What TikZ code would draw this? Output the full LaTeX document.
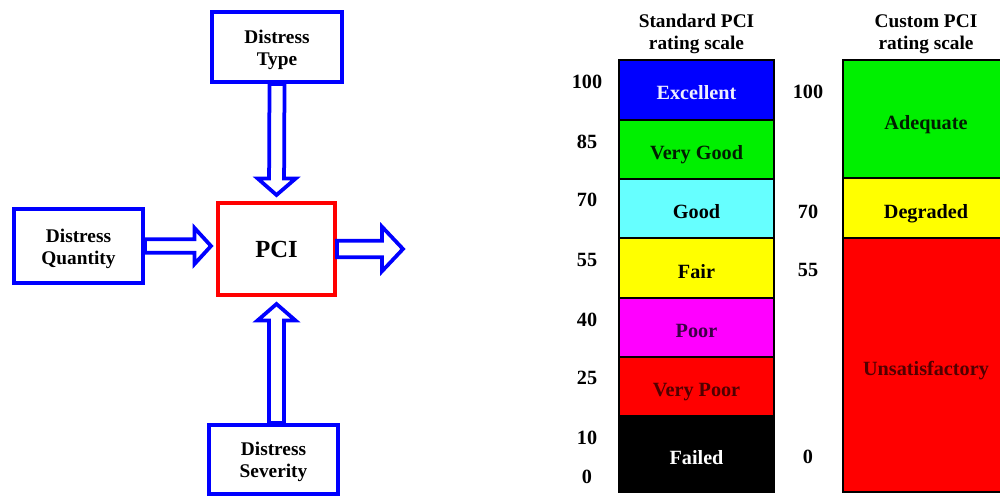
\documentclass[tikz,border=0pt]{standalone}
\usepackage{fontspec}
\setmainfont{Liberation Serif}
\usetikzlibrary{positioning}
\usetikzlibrary{calc}
\usetikzlibrary{math}

\definecolor{pciblue}{RGB}{0,0,255}
\definecolor{pcired}{RGB}{255,0,0}
\definecolor{pcigreen}{RGB}{0,240,0}
\definecolor{pcicyan}{RGB}{102,255,255}
\definecolor{pciyellow}{RGB}{255,255,0}
\definecolor{pcimagenta}{RGB}{255,0,255}
\definecolor{exctext}{RGB}{238,238,255}
\definecolor{goodtext}{RGB}{0,30,0}
\definecolor{poortext}{RGB}{60,0,70}
\definecolor{redtext}{RGB}{80,0,0}

% two line text of an input box, set a little low
\newcommand{\boxtext}[1]{%
  \raisebox{-0.6mm}[\height][\depth]{\begin{tabular}{@{}c@{}}#1\end{tabular}}}

% hollow block arrow: from, to, half shaft, half head, head length
\newcommand{\blockarrow}[5]{%
  \coordinate (ah) at ($(#2)!#5!(#1)$);
  \draw[flowarrow] ($(#1)!#3!90:(#2)$) -- ($(ah)!#3!-90:(#1)$)
    -- ($(ah)!#4!-90:(#1)$) -- (#2) -- ($(ah)!#4!90:(#1)$)
    -- ($(ah)!#3!90:(#1)$) -- ($(#1)!#3!-90:(#2)$) -- cycle;
}

\begin{document}
\begin{tikzpicture}[x=0.2mm,y=-0.2mm,
  inbox/.style={draw=pciblue, line width=0.8mm, fill=white,
    font=\fontsize{11}{12.5}\selectfont\bfseries},
  pcibox/.style={draw=pcired, line width=0.8mm, fill=white,
    minimum width=23.4mm, minimum height=18.4mm,
    font=\fontsize{14}{16}\selectfont\bfseries},
  flowarrow/.style={draw=pciblue, line width=0.75mm, fill=white, line join=miter},
  cell/.style={draw=black, line width=0.3mm},
  celltext/.style={anchor=base, font=\fontsize{11.5}{13}\selectfont\bfseries},
  scalenum/.style={font=\fontsize{11.5}{13}\selectfont\bfseries},
  heading/.style={align=center, font=\fontsize{11}{12.5}\selectfont\bfseries}]

  \useasboundingbox (0,0) rectangle (1000,496);

  % inputs around the PCI box
  \node[pcibox] (pci) at (276.5,249) {PCI};
  \node[inbox, minimum width=26mm, minimum height=14mm,
    above=23.4mm of pci, xshift=0.1mm] (type) {\boxtext{Distress\\Type}};
  \node[inbox, minimum width=25.8mm, minimum height=14.6mm,
    left=14.2mm of pci, yshift=0.6mm] (quantity) {\boxtext{Distress\\Quantity}};
  \node[inbox, minimum width=25.8mm, minimum height=13.8mm,
    below=25.2mm of pci, xshift=-0.6mm] (severity) {\boxtext{Distress\\Severity}};

  \coordinate (out) at (403,249);

  % block arrows
  \blockarrow{type.south}{$(pci.north)+(0,-6)$}{1.5mm}{3.8mm}{3.3mm}
  \blockarrow{quantity.east}{$(quantity.east -| pci.west)+(-5,0)$}{1.35mm}{3.6mm}{3.3mm}
  \blockarrow{severity.north -| pci.south}{$(pci.south)+(0,7)$}{1.5mm}{3.8mm}{3.3mm}
  \blockarrow{pci.east}{out}{1.65mm}{4.45mm}{4.2mm}

  % standard rating scale
  \node[heading] (stdhead) at (696.5,34) {Standard PCI\\rating scale};
  \foreach \ya/\yb/\col/\tcol/\lab [count=\i] in {
      60/120/pciblue/exctext/Excellent,
      120/179/pcigreen/goodtext/Very Good,
      179/238/pcicyan/black/Good,
      238/298/pciyellow/black/Fair,
      298/357/pcimagenta/poortext/Poor,
      357/416/pcired/redtext/Very Poor,
      416/492/black/white/Failed}{
    \draw[cell, fill=\col] (619,\ya) rectangle (774,\yb);
    \node[celltext, text=\tcol] (std-\i) at (696.5,{(\ya+\yb)/2+10}) {\lab};
  }
  \foreach \v/\y in {100/82, 85/142, 70/200, 55/260, 40/320, 25/378, 10/438, 0/477}
    \node[scalenum] (stdnum-\v) at (587,\y) {\v};

  % custom rating scale
  \node[heading] (cushead) at (926,34) {Custom PCI\\rating scale};
  \foreach \ya/\yb/\col/\tcol/\lab [count=\i] in {
      60/178/pcigreen/goodtext/Adequate,
      178/238/pciyellow/black/Degraded,
      238/492/pcired/redtext/Unsatisfactory}{
    \draw[cell, fill=\col] (843,\ya) rectangle (1004,\yb);
    \node[celltext, text=\tcol] (cus-\i) at (926,{(\ya+\yb)/2+10.5}) {\lab};
  }
  \foreach \v/\y in {100/92, 70/212, 55/270, 0/457}
    \node[scalenum] (cusnum-\v) at (808,\y) {\v};

\end{tikzpicture}
\end{document}
